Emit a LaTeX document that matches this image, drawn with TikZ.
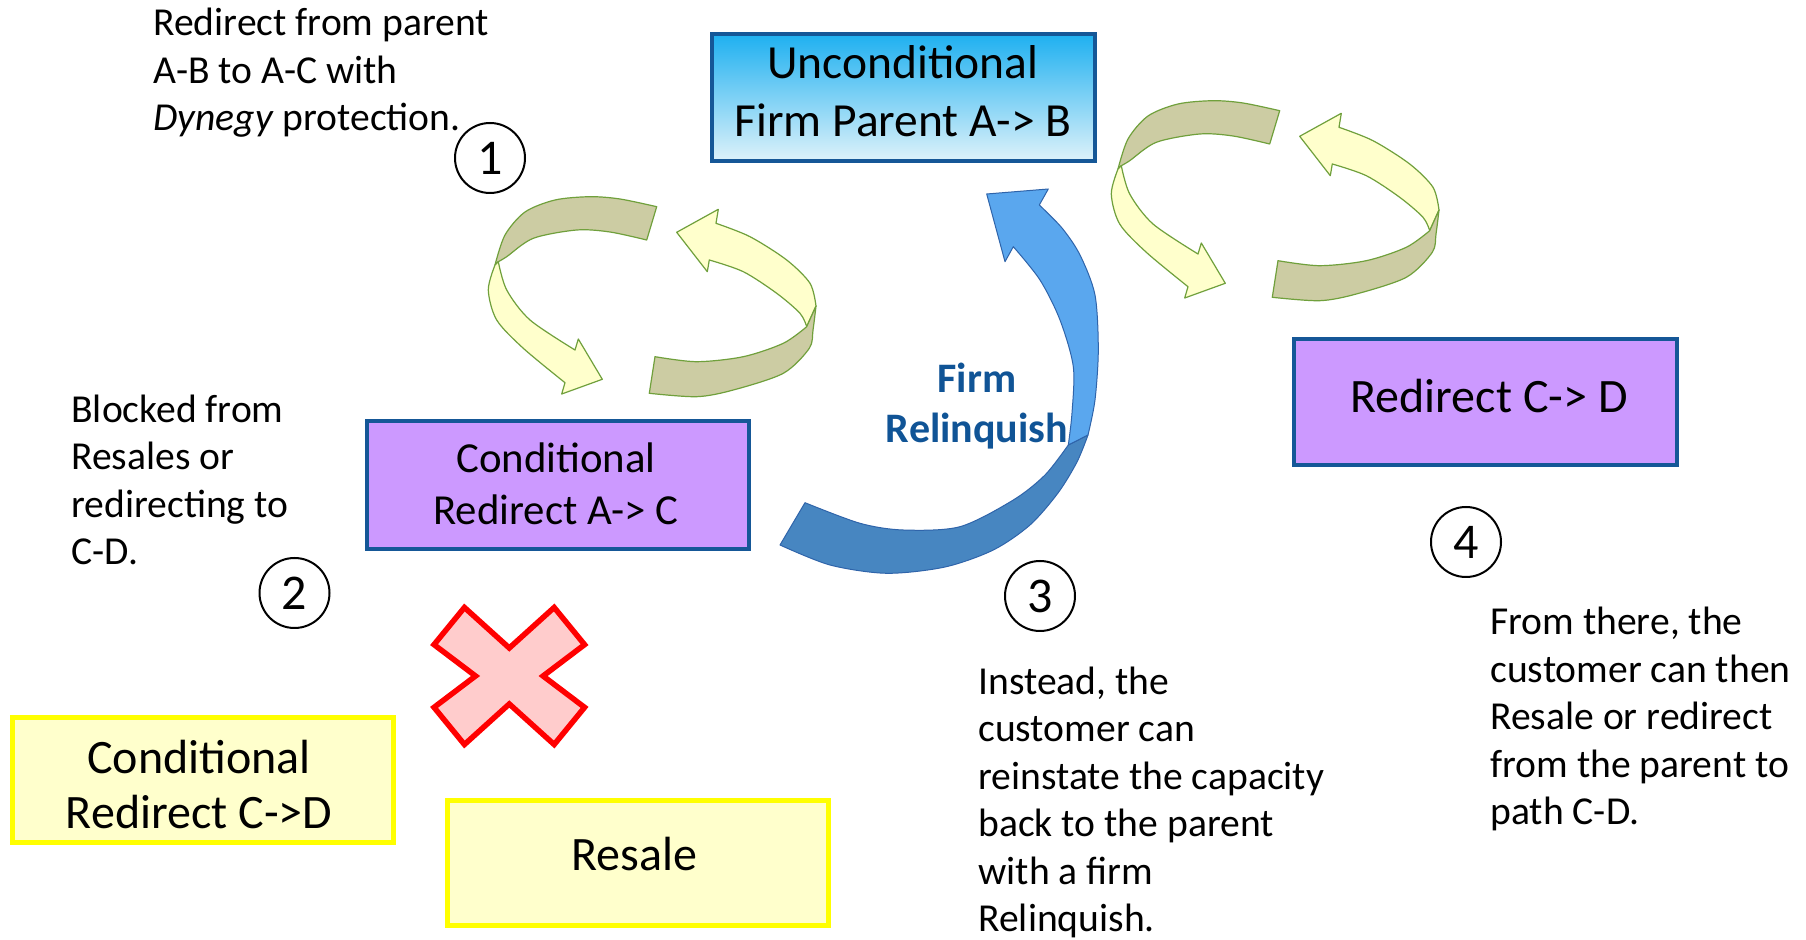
\documentclass[tikz,border=0pt]{standalone}
\usepackage{fontspec}
\setmainfont{Carlito}
\definecolor{boxblue}{RGB}{21,87,151}
\definecolor{purp}{RGB}{204,153,255}
\definecolor{gradtop}{RGB}{30,176,240}
\definecolor{gradbot}{RGB}{222,242,250}
\definecolor{yelb}{RGB}{255,255,0}
\definecolor{yelf}{RGB}{255,255,204}
\definecolor{ribdark}{RGB}{204,204,163}
\definecolor{riblight}{RGB}{255,255,204}
\definecolor{ribline}{RGB}{112,160,60}
\definecolor{arrlight}{RGB}{90,167,238}
\definecolor{arrdark}{RGB}{71,134,193}
\definecolor{arrline}{RGB}{47,100,170}
\definecolor{firmblue}{RGB}{16,84,150}
\definecolor{xred}{RGB}{255,0,0}
\definecolor{xfill}{RGB}{255,204,204}
\newcommand\ribbonpair{%
  \filldraw[ribd] plot[smooth] coordinates {(656.7,206.7) (620,199) (590,196.7) (555,200) (525,212) (505,235) (495,265)}
     -- plot[smooth] coordinates {(498.3,261.7) (506.7,256.7) (533.3,238.3) (576.7,230) (610,232) (646.7,240)} -- cycle;
  \filldraw[ribl] plot[smooth] coordinates {(495,265) (488.3,290) (496.7,320) (523.3,348.3) (565,382.7)}
     -- (561.7,394) -- (602.3,379.3) -- (578.3,339)
     -- plot[smooth] coordinates {(575,350) (530,320) (506.7,290) (498.3,261.7)} -- cycle;
  \filldraw[ribl] (676.7,232.3) -- (718.3,209.3)
     -- plot[smooth] coordinates {(716,223.3) (750,236.7) (786.7,260) (810,283.3) (816,306)}
     -- plot[smooth] coordinates {(806.7,326.7) (800,313.3) (776.7,293.3) (743.3,271.7) (709.3,260)}
     -- (707.3,271.7) -- cycle;
  \filldraw[ribd] plot[smooth] coordinates {(816,306) (813,330) (809.3,348.3) (783.3,373.3) (733.3,390) (696.7,396.7) (649.3,393.3)}
     -- plot[smooth] coordinates {(655,356.7) (696.7,361.7) (743.3,356.7) (783.3,343.3) (806.7,326.7)} -- cycle;
}
\begin{document}
\begin{tikzpicture}[x=0.5pt,y=-0.5pt,
  txt/.style={font=\fontsize{19.8}{23.75}\selectfont, align=left, inner sep=0pt},
  purplebox/.style={draw=boxblue, line width=2pt, fill=purp, inner sep=0pt},
  yellowbox/.style={draw=yelb, line width=2.5pt, fill=yelf, inner sep=0pt},
  numcirc/.style={circle, draw=black, line width=1pt, minimum size=35pt, inner sep=0pt, font=\fontsize{25}{25}\selectfont},
  ribd/.style={fill=ribdark, draw=ribline, line width=0.6pt, line join=round},
  ribl/.style={fill=riblight, draw=ribline, line width=0.6pt, line join=round},
  arrd/.style={fill=arrdark, draw=arrline, line width=0.5pt, line join=round},
  arrl/.style={fill=arrlight, draw=arrline, line width=0.5pt, line join=round}]
\useasboundingbox[fill=white] (0,0) rectangle (1806,940);

% boxes
\node[draw=boxblue, line width=2pt, top color=gradtop, bottom color=gradbot, inner sep=0pt,
      minimum width=191.5pt, minimum height=63.5pt] (uncond) at (903.5,97.5) {};
\node[purplebox, minimum width=191pt, minimum height=64pt] (condac) at (558,485) {};
\node[purplebox, minimum width=191.5pt, minimum height=63pt] (redcd) at (1485.5,401.7) {};
\node[yellowbox, minimum width=190.5pt, minimum height=62.5pt] (condcd) at (203,780) {};
\node[yellowbox, minimum width=190.5pt, minimum height=62.5pt] (resale) at (638,862.7) {};

% texts in boxes (anchor = baseline of last line)
\node[font=\fontsize{23.75}{29}\selectfont, align=center, inner sep=0pt, anchor=base] (uncondt) at (903,136.7) {Unconditional\\Firm Parent A-> B};
\node[font=\fontsize{21.4}{26}\selectfont, align=center, inner sep=0pt, anchor=base] (condact) at (556,525) {Conditional\\Redirect A-> C};
\node[font=\fontsize{24}{26}\selectfont, align=center, inner sep=0pt, anchor=base] (redcdt) at (1489,413) {Redirect C-> D};
\node[font=\fontsize{24}{28}\selectfont, align=center, inner sep=0pt, anchor=base] (condcdt) at (199,829) {Conditional\\Redirect C->D};
\node[font=\fontsize{24}{28}\selectfont, align=center, inner sep=0pt, anchor=base] (resalet) at (634,870.7) {Resale};

% ribbons
\ribbonpair
\begin{scope}[shift={(623,-96)}]
\ribbonpair
\end{scope}

% blue arrow
\filldraw[arrd] plot[smooth] coordinates {(780,545) (830,565) (886.7,573.3) (945,567) (993.3,550) (1030,525) (1058,493) (1077,462) (1088,435)}
   -- plot[smooth] coordinates {(1068.3,445) (1045,475) (1013.3,500) (960,526.7) (903.3,530) (860,523.3) (805,502.7)} -- cycle;
\filldraw[arrl] plot[smooth] coordinates {(1088,435) (1095,400) (1098.3,350) (1095,295) (1080,255) (1062,228) (1039.3,205)}
   -- (1048.3,189) -- (986.7,194) -- (1005,261.7)
   -- plot[smooth] coordinates {(1013.3,246.7) (1040,280) (1060,320) (1073.3,366.7) (1072,413) (1068.3,445)} -- cycle;
\node[font=\bfseries\fontsize{21}{25}\selectfont, text=firmblue, align=center, inner sep=0pt, anchor=base] (firm) at (977,443) {Firm\\Relinquish};

% red X
\begin{scope}[shift={(509.3,676)}]
\filldraw[fill=xfill, draw=xred, line width=2.75pt, line join=miter, scale=0.965]
  (-46.5,-71) -- (-78,-32.5) -- (-35,0) -- (-78,32.5) -- (-46.5,71) -- (0,29) -- (46.5,71) -- (78,32.5) -- (35,0) -- (78,-32.5) -- (46.5,-71) -- (0,-29) -- cycle;
\end{scope}

% texts (anchor = baseline of last line)
\node[txt, anchor=base west] (t1) at (153,130.7) {Redirect from parent\\A-B to A-C with\\\textit{Dynegy} protection.};
\node[txt, anchor=base west] (t2) at (71,565) {Blocked from\\Resales or\\redirecting to\\C-D.};
\node[txt, anchor=base west] (t3) at (978,931.7) {Instead, the\\customer can\\reinstate the capacity\\back to the parent\\with a firm\\Relinquish.};
\node[txt, anchor=base west] (t4) at (1490,825) {From there, the\\customer can then\\Resale or redirect\\from the parent to\\path C-D.};

% circles
\node[numcirc] (c1) at (490,158) {1};
\node[numcirc] (c2) at (294.5,593) {2};
\node[numcirc] (c3) at (1040,596) {3};
\node[numcirc] (c4) at (1466,542) {4};
\end{tikzpicture}
\end{document}
